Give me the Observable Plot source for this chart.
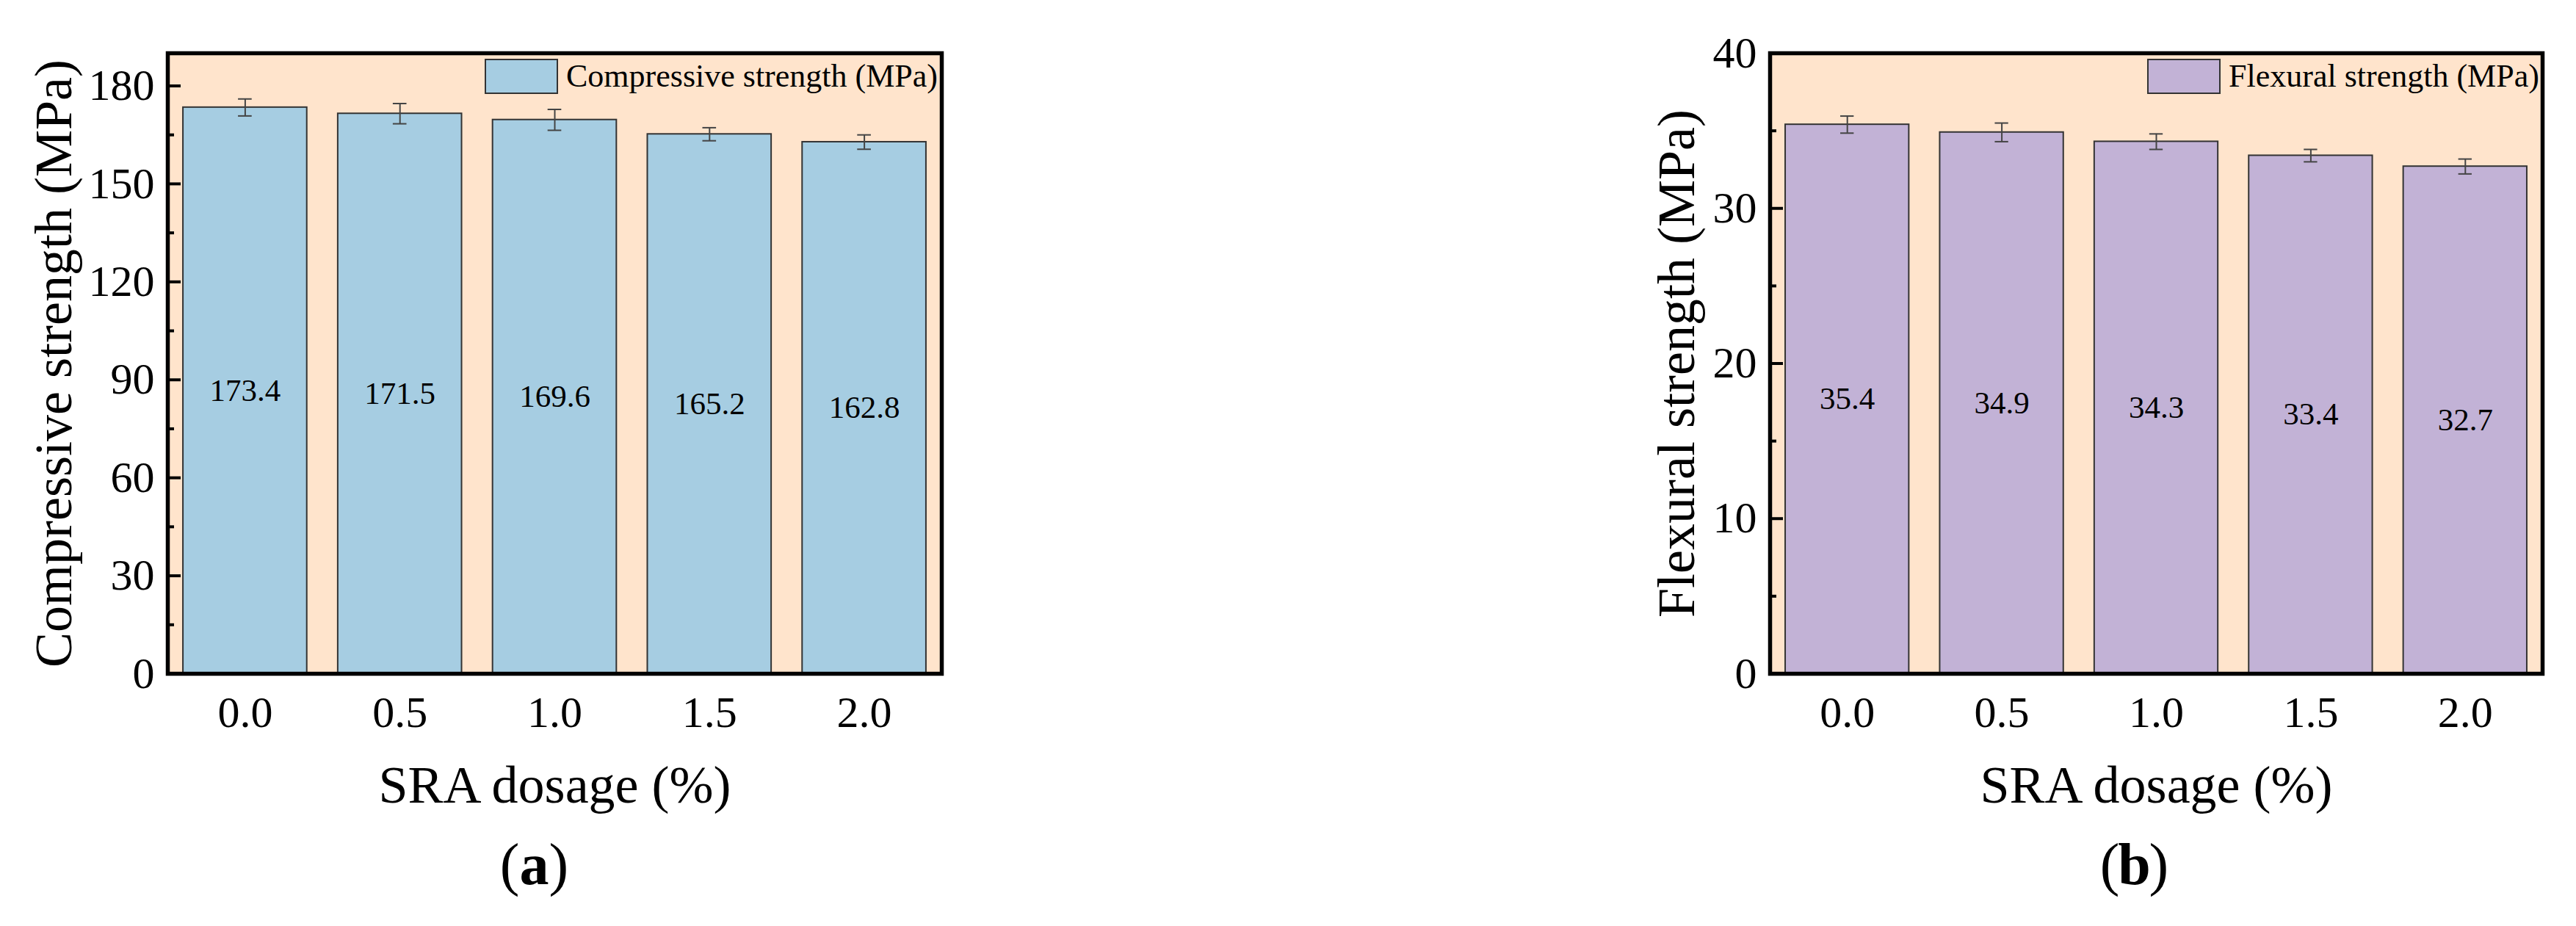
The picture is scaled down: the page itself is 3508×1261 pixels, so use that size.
<!DOCTYPE html>
<html><head><meta charset="utf-8">
<script src="https://cdn.jsdelivr.net/npm/d3@7"></script>
<script src="https://cdn.jsdelivr.net/npm/@observablehq/plot@0.6"></script>
<style>
html,body{margin:0;padding:0;background:#fff;}
#page{position:relative;width:3508px;height:1261px;overflow:hidden;background:#fff;font-family:"Liberation Serif","Times New Roman",serif;}
.panel{position:absolute;top:0;width:1754px;height:1261px;}
.leg{position:absolute;line-height:1;}
.leg div{font-family:"Liberation Serif","Times New Roman",serif !important;font-size:44px !important;color:#000;margin:0 !important;min-height:0 !important;line-height:1;}
.leg span{margin-right:0 !important;}
.leg svg{margin-right:12px !important;overflow:visible;}
.leg svg rect{stroke:#333;stroke-width:2px;}
</style></head><body><div id="page"></div>
<script>
// ---- data ----
const dosages = ["0.0", "0.5", "1.0", "1.5", "2.0"];
const compressive = [173.4, 171.5, 169.6, 165.2, 162.8];
const compressiveErr = [2.6, 3.1, 3.2, 2.0, 2.2];
const flexural = [35.4, 34.9, 34.3, 33.4, 32.7];
const flexuralErr = [0.55, 0.6, 0.5, 0.4, 0.48];
const compMajorTicks = [0, 30, 60, 90, 120, 150, 180];
const compMinorTicks = [15, 45, 75, 105, 135, 165];
const flexMajorTicks = [0, 10, 20, 30, 40];
const flexMinorTicks = [5, 15, 25, 35];
const xTitle = "SRA dosage (%)";
const compTitle = "Compressive strength (MPa)";
const flexTitle = "Flexural strength (MPa)";
const compColor = "#a6cde2";
const flexColor = "#c2b2d6";
const bgColor = "#ffe4cc";

function panel(o) {
  const data = dosages.map((d, i) => ({dosage: d, value: o.values[i], err: o.errs[i]}));
  const serif = '"Liberation Serif", "Times New Roman", serif';
  return Plot.plot({
    width: 1754, height: 1261,
    marginLeft: o.ml, marginRight: o.mr, marginTop: 72, marginBottom: 344,
    style: {fontFamily: serif, background: "transparent", color: "black", overflow: "visible"},
    x: {type: "band", domain: dosages, paddingInner: 0.2, paddingOuter: 0.1, round: false, label: null},
    y: {domain: o.domain, label: null},
    marks: [
      Plot.frame({fill: bgColor, stroke: null}),
      Plot.barY(data, {x: "dosage", y: "value", fill: o.color, stroke: "#333", strokeWidth: 2}),
      Plot.ruleX(data, {x: "dosage", y1: d => d.value - d.err, y2: d => d.value + d.err, stroke: "#444", strokeWidth: 2}),
      Plot.tickY(data, {x: "dosage", y: d => d.value + d.err, inset: 75, stroke: "#444", strokeWidth: 2}),
      Plot.tickY(data, {x: "dosage", y: d => d.value - d.err, inset: 75, stroke: "#444", strokeWidth: 2}),
      Plot.text(data, {x: "dosage", y: d => d.value / 2, text: d => d.value.toFixed(1), fontSize: 43, fill: "black"}),
      Plot.axisX({tickSize: 0, tickPadding: 30, fontSize: 60, label: null}),
      Plot.axisY({ticks: o.major, tickSize: 0, tickPadding: 18, fontSize: 60, label: null}),
      Plot.axisY({ticks: o.major, tickSize: 18, dx: 18, fill: "none", stroke: "black", strokeWidth: 4, label: null}),
      Plot.axisY({ticks: o.minor, tickSize: 9, dx: 9, fill: "none", stroke: "black", strokeWidth: 4, label: null}),
      Plot.frame({stroke: "black", strokeWidth: 5.5}),
      Plot.text([o.title], {text: d => d, frameAnchor: "left", textAnchor: "middle", lineAnchor: "middle", rotate: -90, dx: o.titleDx, fontSize: 72, fill: "black"}),
      Plot.text([xTitle], {text: d => d, frameAnchor: "bottom", lineAnchor: "bottom", dy: 175, fontSize: 72, fill: "black"}),
      Plot.text(["("], {text: d => d, frameAnchor: "bottom", lineAnchor: "bottom", dy: 286, dx: o.tagDx - 20, textAnchor: "end", fontSize: 80, fill: "black"}),
      Plot.text([o.tag], {text: d => d, frameAnchor: "bottom", lineAnchor: "bottom", dy: 286, dx: o.tagDx, fontSize: 80, fontWeight: "bold", fill: "black"}),
      Plot.text([")"], {text: d => d, frameAnchor: "bottom", lineAnchor: "bottom", dy: 286, dx: o.tagDx + 20, textAnchor: "start", fontSize: 80, fill: "black"})
    ]
  });
}

const page = document.getElementById("page");

const left = document.createElement("div");
left.className = "panel"; left.style.left = "0px";
left.appendChild(panel({values: compressive, errs: compressiveErr, color: compColor, domain: [0, 190],
  major: compMajorTicks, minor: compMinorTicks, title: compTitle, tag: "a", ml: 228, mr: 472, titleDx: -155, tagDx: -28}));
page.appendChild(left);

const right = document.createElement("div");
right.className = "panel"; right.style.left = "1754px";
right.appendChild(panel({values: flexural, errs: flexuralErr, color: flexColor, domain: [0, 40],
  major: flexMajorTicks, minor: flexMinorTicks, title: flexTitle, tag: "b", ml: 656, mr: 46, titleDx: -127, tagDx: -30}));
page.appendChild(right);

function legend(label, color, x, y) {
  const wrap = document.createElement("div");
  wrap.className = "leg";
  wrap.style.left = x + "px"; wrap.style.top = y + "px";
  wrap.appendChild(Plot.legend({color: {type: "ordinal", domain: [label], range: [color]},
    legend: "swatches", swatchWidth: 98, swatchHeight: 46}));
  page.appendChild(wrap);
}
legend(compTitle, compColor, 661, 81);
legend(flexTitle, flexColor, 2925, 81);
</script></body></html>
